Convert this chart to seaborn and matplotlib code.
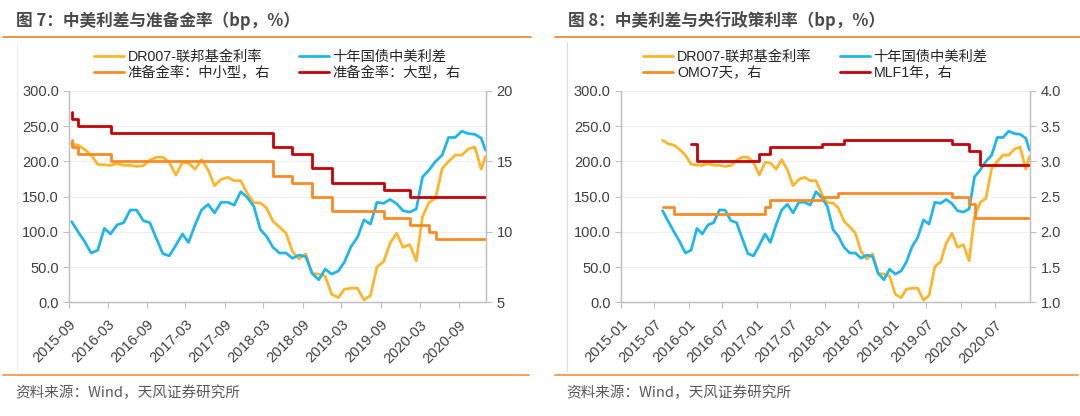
import matplotlib
matplotlib.use('Agg')
import matplotlib.pyplot as plt
from matplotlib.lines import Line2D
import pandas as pd
import seaborn as sns

# monthly data, Aug 2015 .. Dec 2020, plus one last reading at the right edge
months = pd.period_range('2015-08', '2020-12', freq='M')
last_day = '2021-01-04'

dr007_ffr = [230, 225, 223, 217, 209, 196, 195, 194.5, 197, 194.5, 194.5, 193, 194,
             201.6, 206, 206, 198.7, 180.7, 198.7, 197.8, 189, 202.5, 188, 165.6,
             174.6, 177.4, 172.7, 172.7, 154.7, 141.5, 141, 134, 115, 107, 98, 72,
             61.5, 68.6, 41, 40, 37, 11.4, 6.6, 18.5, 20, 20, 3.3, 9.5, 50.6, 57.7,
             83.8, 98, 78, 82, 59, 121.6, 142, 147.6, 190, 200, 209, 209, 217.6,
             220.5, 189, 207]
spread_10y = [130, 114.5, 100, 86, 70, 74, 105, 97, 110, 113, 131, 131, 116, 113, 91,
              69, 66, 81, 97, 85, 110, 131, 139, 127, 142, 142, 138, 157, 149, 136,
              103, 94, 78, 70, 70, 62.5, 67, 65, 41, 32, 47, 40, 44.5, 57, 79, 92,
              117, 111, 142, 140.5, 146, 140, 130, 128, 132.5, 178, 188, 200, 209,
              234, 234, 243, 239.5, 238.5, 233, 216]

# reserve requirement ratio (%), month of change -> new level
rrr_small_months = ['2015-09', '2015-09', '2015-10', '2016-03', '2018-04', '2018-07',
                    '2018-10', '2019-01', '2019-09', '2020-01', '2020-04', '2020-05']
rrr_small = [16.5, 16.0, 15.5, 15.0, 14.0, 13.5, 12.5, 11.5, 11.0, 10.5, 10.0, 9.5]
rrr_large_months = ['2015-09', '2015-09', '2015-10', '2016-03', '2018-04', '2018-07',
                    '2018-10', '2019-01', '2019-09', '2020-01']
rrr_large = [18.5, 18.0, 17.5, 17.0, 16.0, 15.5, 14.5, 13.5, 13.0, 12.5]

# policy rates (%)
omo_months = ['2015-08', '2015-10', '2017-02', '2017-03', '2017-12', '2018-03',
              '2019-11', '2020-02', '2020-03']
omo_7d = [2.35, 2.25, 2.35, 2.45, 2.50, 2.55, 2.50, 2.40, 2.20]
mlf_months = ['2016-01', '2016-02', '2017-01', '2017-03', '2017-12', '2018-04',
              '2019-11', '2020-02', '2020-04']
mlf_1y = [3.25, 3.00, 3.10, 3.20, 3.25, 3.30, 3.25, 3.15, 2.95]

ticks_left = ['2015-09', '2016-03', '2016-09', '2017-03', '2017-09', '2018-03',
              '2018-09', '2019-03', '2019-09', '2020-03', '2020-09']
ticks_right = ['2015-01', '2015-07', '2016-01', '2016-07', '2017-01', '2017-07',
               '2018-01', '2018-07', '2019-01', '2019-07', '2020-01', '2020-07']

YELLOW, BLUE, ORANGE, RED = '#FDB52C', '#20B6EA', '#F98B27', '#C8000A'
GRID, SPINE, TXT = '#EFEFEF', '#BFBFBF', '#404040'

sns.set_theme(style='white')
plt.rcParams['font.family'] = ['Liberation Sans', 'Noto Sans CJK SC']
CJK = ['Noto Sans CJK SC', 'DejaVu Sans']

W, H = 1080, 416
fig = plt.figure(figsize=(W / 100, H / 100), dpi=100)


def box(x0, y0, x1, y1):
    return [x0 / W, 1 - y1 / H, (x1 - x0) / W, (y1 - y0) / H]


def mid(m):
    return pd.Period(m, 'M').to_timestamp() + pd.Timedelta(days=14)


def spreads(start):
    dates = [p.to_timestamp() + pd.Timedelta(days=14) for p in months] + [pd.Timestamp(last_day)]
    df = pd.DataFrame({'date': dates, 'DR007': dr007_ffr, '10Y': spread_10y})
    return df[df['date'] >= pd.Timestamp(start)]


def steps(ax, mths, vals, color):
    x = [mid(m) for m in mths] + [pd.Timestamp(last_day)]
    y = list(vals) + [vals[-1]]
    sns.lineplot(x=x, y=y, ax=ax, color=color, lw=2, drawstyle='steps-post',
                 sort=False, estimator=None, legend=False)


def panel(x0, x1, start, ticks, step_a, step_b, rlim, rticks, rfmt):
    ax = fig.add_axes(box(x0, 91, x1, 302.3))
    df = spreads(start)
    long = df.melt(id_vars='date', var_name='series', value_name='v')
    sns.lineplot(data=long, x='date', y='v', hue='series', ax=ax, lw=2,
                 palette={'DR007': YELLOW, '10Y': BLUE}, sort=False,
                 estimator=None, legend=False)
    ax2 = ax.twinx()
    steps(ax2, *step_a, ORANGE)
    steps(ax2, *step_b, RED)

    ax.set_xlim(pd.Timestamp(start), pd.Timestamp(last_day))
    ax.set_ylim(0, 300)
    ax.set_yticks(range(0, 301, 50))
    ax.set_yticklabels([f'{v:.1f}' for v in range(0, 301, 50)])
    ax.set_xticks([pd.Timestamp(t) for t in ticks])
    ax.set_xticklabels(ticks, rotation=45, ha='right', rotation_mode='anchor')
    ax2.set_ylim(*rlim)
    ax2.set_yticks(rticks)
    ax2.set_yticklabels([rfmt.format(v) for v in rticks])
    ax.grid(axis='y', color=GRID, lw=0.8)
    ax.set_xlabel('')
    ax.set_ylabel('')
    ax2.set_ylabel('')
    for a in (ax, ax2):
        for side, sp in a.spines.items():
            sp.set_visible(side != 'top')
            sp.set_color(SPINE)
            sp.set_linewidth(0.9)
    ax.tick_params(axis='both', which='major', length=4, width=0.8, color=SPINE,
                   labelsize=10.5, labelcolor=TXT, left=True, bottom=True, pad=3)
    ax.tick_params(axis='x', pad=7)
    ax2.tick_params(axis='y', length=4, width=0.8, color=SPINE, labelsize=10.5,
                    labelcolor=TXT, right=True, pad=4)
    return ax


panel(68.7, 485.5, '2015-09-01', ticks_left,
      (rrr_small_months, rrr_small), (rrr_large_months, rrr_large),
      (5, 20), [5, 10, 15, 20], '{:.0f}')
panel(620.5, 1029.5, '2015-01-01', ticks_right,
      (omo_months, omo_7d), (mlf_months, mlf_1y),
      (1.0, 4.0), [1.0, 1.5, 2.0, 2.5, 3.0, 3.5, 4.0], '{:.1f}')


def legend(x, labels):
    colors = [YELLOW, ORANGE, BLUE, RED]
    handles = [Line2D([], [], color=c, lw=2) for c in colors]
    fig.legend(handles, labels, loc='upper left', bbox_to_anchor=(x / W, 1 - 50 / H),
               ncol=2, frameon=False, fontsize=10.3, handlelength=2.1,
               handletextpad=0.25, columnspacing=2.0, labelspacing=0.15,
               borderpad=0, borderaxespad=0, labelcolor='#262626')


legend(93.8, ['DR007-联邦基金利率', '准备金率：中小型，右', '十年国债中美利差', '准备金率：大型，右'])
legend(643.3, ['DR007-联邦基金利率', 'OMO7天，右', '十年国债中美利差', 'MLF1年，右'])

titles = [(15.5, '图 7：中美利差与准备金率（bp，%）'), (567.6, '图 8：中美利差与央行政策利率（bp，%）')]
for x, t in titles:
    fig.text(x / W, 1 - 21 / H, t, fontsize=12, color='#4A4A4A', va='center',
             ha='left', family=CJK, fontweight='bold')
for x in (15.5, 566):
    fig.text(x / W, 1 - 393 / H, '资料来源：Wind，天风证券研究所', fontsize=10.5,
             color='#595959', va='center', ha='left', family=CJK)

# decorative rules of the report layout
for xa, xb in ((3, 531), (555, 1080)):
    fig.add_artist(Line2D([xa / W, xb / W], [1 - 36.7 / H] * 2, color='#F08A3A', lw=1.3))
    fig.add_artist(Line2D([xa / W, (xb - 2) / W], [1 - 375 / H] * 2, color='#F29A50', lw=1.3))
fig.add_artist(Line2D([16.7 / W] * 2, [1 - 42 / H, 1 - 371 / H], color='#EEEEEE', lw=0.8))
fig.add_artist(Line2D([567.3 / W] * 2, [1 - 42 / H, 1 - 371 / H], color='#DCDCDC', lw=0.8))

fig.savefig('out.png', dpi=100)
